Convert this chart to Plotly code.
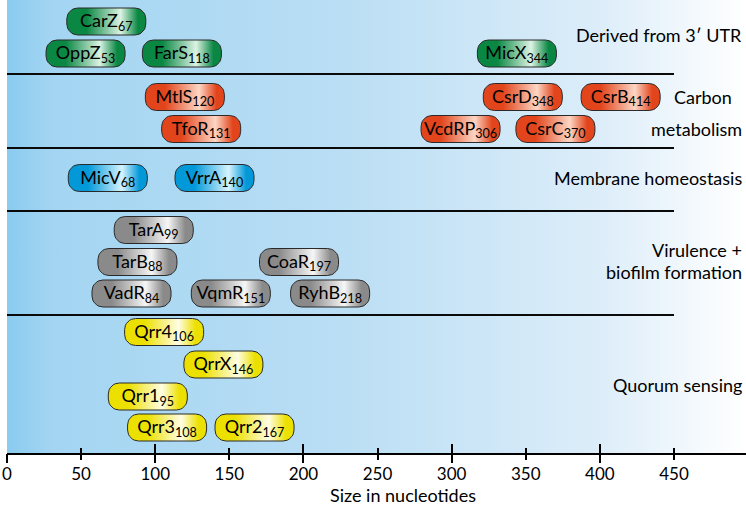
import plotly.graph_objects as go
import math

# ---------------- data ----------------
group_labels = ["Derived from 3\u2032 UTR", "Carbon<br>metabolism", "Membrane homeostasis",
                "Virulence +<br>biofilm formation", "Quorum sensing"]

names = ["CarZ", "OppZ", "FarS", "MicX",
         "MtlS", "CsrD", "CsrB", "TfoR", "VcdRP", "CsrC",
         "MicV", "VrrA",
         "TarA", "TarB", "CoaR", "VadR", "VqmR", "RyhB",
         "Qrr4", "QrrX", "Qrr1", "Qrr3", "Qrr2"]
sizes = [67, 53, 118, 344,
         120, 348, 414, 131, 306, 370,
         68, 140,
         99, 88, 197, 84, 151, 218,
         106, 146, 95, 108, 167]
groups = [0, 0, 0, 0,
          1, 1, 1, 1, 1, 1,
          2, 2,
          3, 3, 3, 3, 3, 3,
          4, 4, 4, 4, 4]
rows = [0, 1, 1, 1,
        2, 2, 2, 3, 3, 3,
        4, 4,
        5, 6, 6, 7, 7, 7,
        8, 9, 10, 11, 11]
tick_values = [0, 50, 100, 150, 200, 250, 300, 350, 400, 450]

# ---------------- layout / style ----------------
W, H = 746, 505
ML, MB = 7, 52
PLOT_H = H - MB               # 453
PXU = 667 / 450.0             # pixels per nucleotide
XMAX = (W - ML) / PXU
row_y = [21.5, 53.5, 97, 129, 178, 230, 262, 293.5, 332, 364.5, 396.5, 427.5]
sep_y = [74, 148, 211, 315]
label_y = [[35], [97, 129], [178], [250, 272], [385]]
label_align = ["right", "center", "right", "right", "right"]

pill_colors = [("#0a8743", "#dcf3e4"),
               ("#e2451c", "#fcd6c4"),
               ("#0399d9", "#d6f3fe"),
               ("#8a8a8a", "#f6f6f6"),
               ("#ece000", "#fffde4")]
FONT = "Lato"

fig = go.Figure()

# background gradient
fig.add_trace(go.Scatter(
    x=[0, XMAX, XMAX, 0, 0], y=[0, 0, PLOT_H, PLOT_H, 0],
    mode="none", fill="toself",
    fillgradient=dict(type="horizontal",
                      colorscale=[[0, "#8acbef"], [0.06, "#a3d5f2"], [0.45, "#badef4"],
                                  [0.8, "#dcedf9"], [1, "#ffffff"]]),
    hoverinfo="skip", showlegend=False))

# separator lines
for yy in sep_y:
    fig.add_shape(type="line", x0=0, x1=450, y0=yy, y1=yy, xref="x", yref="y",
                  line=dict(color="#0a0a0a", width=1.8))

# pills
HW, HH, R = 39.5, 13.5, 11.0


def pill_points(cx, cy):
    pts = []
    corners = [(HW - R, -HH + R, -90, 0), (HW - R, HH - R, 0, 90),
               (-HW + R, HH - R, 90, 180), (-HW + R, -HH + R, 180, 270)]
    for (ox, oy, a0, a1) in corners:
        for k in range(9):
            a = math.radians(a0 + (a1 - a0) * k / 8)
            pts.append((ox + R * math.cos(a), oy + R * math.sin(a)))
    pts.append(pts[0])
    xs = [cx + p[0] / PXU for p in pts]
    ys = [cy + p[1] for p in pts]
    return xs, ys


for n, s, g, r in zip(names, sizes, groups, rows):
    dark, light = pill_colors[g]
    xs, ys = pill_points(s, row_y[r])
    fig.add_trace(go.Scatter(
        x=xs, y=ys, mode="lines", fill="toself",
        line=dict(color="#2a2a2a", width=1),
        fillgradient=dict(type="horizontal",
                          colorscale=[[0, dark], [0.25, dark], [0.68, light], [0.9, dark], [1, dark]]),
        hoverinfo="skip", showlegend=False))

fig.add_trace(go.Scatter(
    x=sizes, y=[row_y[r] + 1 for r in rows], mode="text",
    text=[f"{n}<sub>{s}</sub>" for n, s in zip(names, sizes)],
    textposition="middle center",
    textfont=dict(family=FONT, size=18, color="black"),
    hoverinfo="skip", showlegend=False))

# group labels
for lab, ys, al in zip(group_labels, label_y, label_align):
    parts = lab.split("<br>")
    for i, (p, yy) in enumerate(zip(parts, ys)):
        if al == "center" and i == 0:
            fig.add_annotation(x=(703 - ML) / (W - ML), xref="paper", y=yy, yref="y",
                               text=p, showarrow=False, xanchor="center", yanchor="middle",
                               font=dict(family=FONT, size=18, color="black"))
        else:
            fig.add_annotation(x=1, xref="paper", xshift=-2, y=yy, yref="y",
                               text=p, showarrow=False, xanchor="right", yanchor="middle",
                               font=dict(family=FONT, size=18, color="black"))

# axis title
fig.add_annotation(x=(403 - ML) / (W - ML), xref="paper", y=(PLOT_H - 495) / PLOT_H, yref="paper",
                   text="Size in nucleotides", showarrow=False, xanchor="center", yanchor="middle",
                   font=dict(family=FONT, size=18, color="black"))

# dummy traces for overlay axes
for ax in ["x2", "x3", "x4"]:
    fig.add_trace(go.Scatter(x=[None], y=[None], xaxis=ax, yaxis="y",
                             showlegend=False, hoverinfo="skip"))

common = dict(range=[0, XMAX], showgrid=False, zeroline=False, fixedrange=True, automargin=False)
hundreds = [v for v in tick_values if v % 100 == 0]
fig.update_layout(
    width=W, height=H,
    margin=dict(l=ML, r=0, t=0, b=MB, autoexpand=False),
    paper_bgcolor="white", plot_bgcolor="white",
    xaxis=dict(**common, showline=True, linecolor="black", linewidth=1.6,
               tickmode="array", tickvals=tick_values, ticks="outside", ticklen=5,
               tickwidth=1.6, tickcolor="black", ticklabelstandoff=0,
               tickfont=dict(family=FONT, size=17, color="black")),
    xaxis2=dict(**common, overlaying="x", anchor="y", showline=False, showticklabels=False,
                tickmode="array", tickvals=hundreds, ticks="outside", ticklen=9,
                tickwidth=1.6, tickcolor="black"),
    xaxis3=dict(**common, overlaying="x", anchor="y", showline=False, showticklabels=False,
                tickmode="array", tickvals=tick_values, ticks="inside", ticklen=5,
                tickwidth=1.6, tickcolor="black"),
    xaxis4=dict(**common, overlaying="x", anchor="y", showline=False, showticklabels=False,
                tickmode="array", tickvals=hundreds, ticks="inside", ticklen=9,
                tickwidth=1.6, tickcolor="black"),
    yaxis=dict(range=[PLOT_H, 0], visible=False, fixedrange=True, automargin=False),
    showlegend=False,
)

fig.write_html("out.html", config={"displayModeBar": False},
               post_script="document.body.style.margin='0px';document.body.style.overflow='hidden';")
